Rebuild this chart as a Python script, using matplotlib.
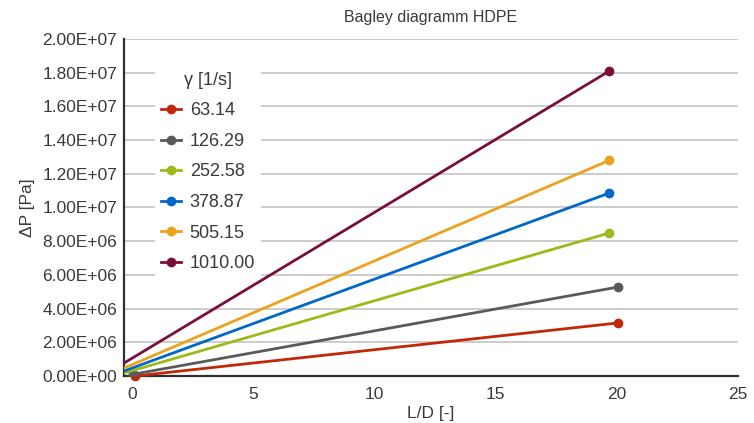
import numpy as np
import matplotlib
matplotlib.use('Agg')
from matplotlib import pyplot as plt
from matplotlib.ticker import FuncFormatter

plt.rcParams['font.family'] = ['Liberation Sans', 'DejaVu Sans']

# shear rates [1/s] and the two points of each Bagley line
rates = ['63.14', '126.29', '252.58', '378.87', '505.15', '1010.00']
colors = ['#C0280A', '#5A5A5A', '#9BBB1A', '#0068C8', '#EBA31C', '#7A0E3E']
ld_start = [0.1, 0.0, -0.35, -0.35, -0.35, -0.35]
dp_start = [0.0, 0.1e6, 0.18e6, 0.3e6, 0.47e6, 0.77e6]
ld_end = [20.05, 20.05, 19.7, 19.7, 19.7, 19.7]
dp_end = [3.15e6, 5.28e6, 8.49e6, 10.86e6, 12.8e6, 18.1e6]

txt = '#3A3A3A'

fig = plt.figure(figsize=(7.54, 4.23), dpi=100)
ax = fig.add_axes([0.1645, 0.111, 0.814, 0.797])

for i in range(len(rates)):
    if i < 2:
        mev = [0, 1]
    else:
        mev = [1]
    ax.plot([ld_start[i], ld_end[i]], [dp_start[i], dp_end[i]], '-o',
            color=colors[i], lw=2.0, ms=6, markevery=mev,
            label=rates[i], clip_on=(i != 0), zorder=3)

ax.set_xlim(-0.35, 25)
ax.set_ylim(0, 2.0e7)
ax.set_xticks([0, 5, 10, 15, 20, 25])
ax.set_yticks(np.arange(0, 2.01e7, 2e6))
ax.yaxis.set_major_formatter(FuncFormatter(lambda v, p: f'{v:.2E}'))

ax.grid(axis='y', color='#C4C4C4', lw=1.2)
ax.set_axisbelow(True)
for s in ['top', 'right']:
    ax.spines[s].set_visible(False)
for s in ['left', 'bottom']:
    ax.spines[s].set_color('#303030')
    ax.spines[s].set_linewidth(1.6)
ax.tick_params(length=0, labelsize=12.5, colors=txt)
ax.tick_params(axis='x', pad=8)
ax.tick_params(axis='y', pad=5)

ax.set_title('Bagley diagramm HDPE', fontsize=11.5, color=txt, pad=12)
ax.set_xlabel('L/D [-]', fontsize=12.5, color=txt, labelpad=3)
ax.set_ylabel('ΔP [Pa]', fontsize=12.5, color=txt, labelpad=5)

leg = ax.legend(title='γ [1/s]', loc='upper left', bbox_to_anchor=(0.035, 0.948),
                fontsize=13, title_fontsize=13, frameon=True, framealpha=1,
                facecolor='white', edgecolor='none', handlelength=1.1,
                handletextpad=0.5, labelspacing=0.75, borderpad=0.35)
leg.get_title().set_color(txt)
for t in leg.get_texts():
    t.set_color(txt)

fig.savefig('out.png', dpi=100)
